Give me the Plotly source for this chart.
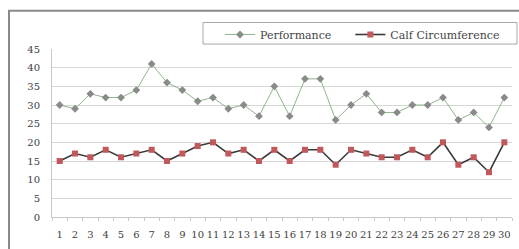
import plotly.graph_objects as go

categories = [str(i) for i in range(1, 31)]
performance = [30, 29, 33, 32, 32, 34, 41, 36, 34, 31, 32, 29, 30, 27, 35,
               27, 37, 37, 26, 30, 33, 28, 28, 30, 30, 32, 26, 28, 24, 32]
calf = [15, 17, 16, 18, 16, 17, 18, 15, 17, 19, 20, 17, 18, 15, 18,
        15, 18, 18, 14, 18, 17, 16, 16, 18, 16, 20, 14, 16, 12, 20]
y_ticks = [0, 5, 10, 15, 20, 25, 30, 35, 40, 45]
series_names = ["Performance", "Calf Circumference"]

font_family = "DejaVu Serif, Liberation Serif, serif"
pad = "\u00a0" * 4

fig = go.Figure()
fig.add_trace(go.Scatter(
    x=categories, y=performance, name=series_names[0] + pad, mode="lines+markers",
    line=dict(color="#8fb58a", width=1),
    marker=dict(symbol="diamond", size=6, color="#8a8a8a"),
))
fig.add_trace(go.Scatter(
    x=categories, y=calf, name=series_names[1], mode="lines+markers",
    line=dict(color="#3a3a3a", width=1.6),
    marker=dict(symbol="square", size=6, color="#c0585c"),
))

L, R, T, B = 52, 7, 46, 32
W, H = 519, 249
pw = W - L - R
ph = H - T - B

def px_x(x):
    return (x - L) / pw

def px_y(y):
    return (H - B - y) / ph

fig.update_layout(
    width=W, height=H,
    margin=dict(l=L, r=R, t=T, b=B),
    paper_bgcolor="white", plot_bgcolor="white",
    font=dict(family=font_family, size=10, color="#404040"),
    showlegend=True,
    legend=dict(
        orientation="h", xref="container", yref="container",
        x=220 / W, y=1 - 20 / H, xanchor="left", yanchor="top",
        borderwidth=0, bgcolor="rgba(0,0,0,0)",
        font=dict(family=font_family, size=11, color="#454545"),
        itemwidth=30,
    ),
    xaxis=dict(
        type="category", tickvals=categories, ticktext=categories,
        showgrid=False, showline=True, linecolor="#c8c8c8", linewidth=1,
        ticks="outside", ticklen=3, tickcolor="#c8c8c8", tickson="boundaries",
        tickfont=dict(size=10, color="#404040"), tickangle=0,
        range=[-0.5, 29.5], automargin=False, ticklabelstandoff=8,
    ),
    yaxis=dict(
        range=[0, 45], tickvals=y_ticks,
        showgrid=True, gridcolor="#d6d6d6", gridwidth=1,
        showline=True, linecolor="#c8c8c8", linewidth=1,
        zeroline=False, ticks="", tickfont=dict(size=10, color="#404040"),
        ticklabelstandoff=9, automargin=False,
    ),
    shapes=[
        dict(
            type="rect", xref="paper", yref="paper",
            x0=px_x(9), x1=px_x(535), y0=px_y(262), y1=px_y(7),
            line=dict(color="#8a8a8a", width=2), fillcolor="rgba(0,0,0,0)",
            layer="above",
        ),
        dict(
            type="rect", xref="paper", yref="paper",
            x0=px_x(203), x1=px_x(517), y0=px_y(41), y1=px_y(19),
            line=dict(color="#a8a8a8", width=1), fillcolor="rgba(0,0,0,0)",
            layer="above",
        ),
    ],
)

fig.write_html("out.html", config={"displayModeBar": False},
               post_script="document.body.style.margin='0';")
